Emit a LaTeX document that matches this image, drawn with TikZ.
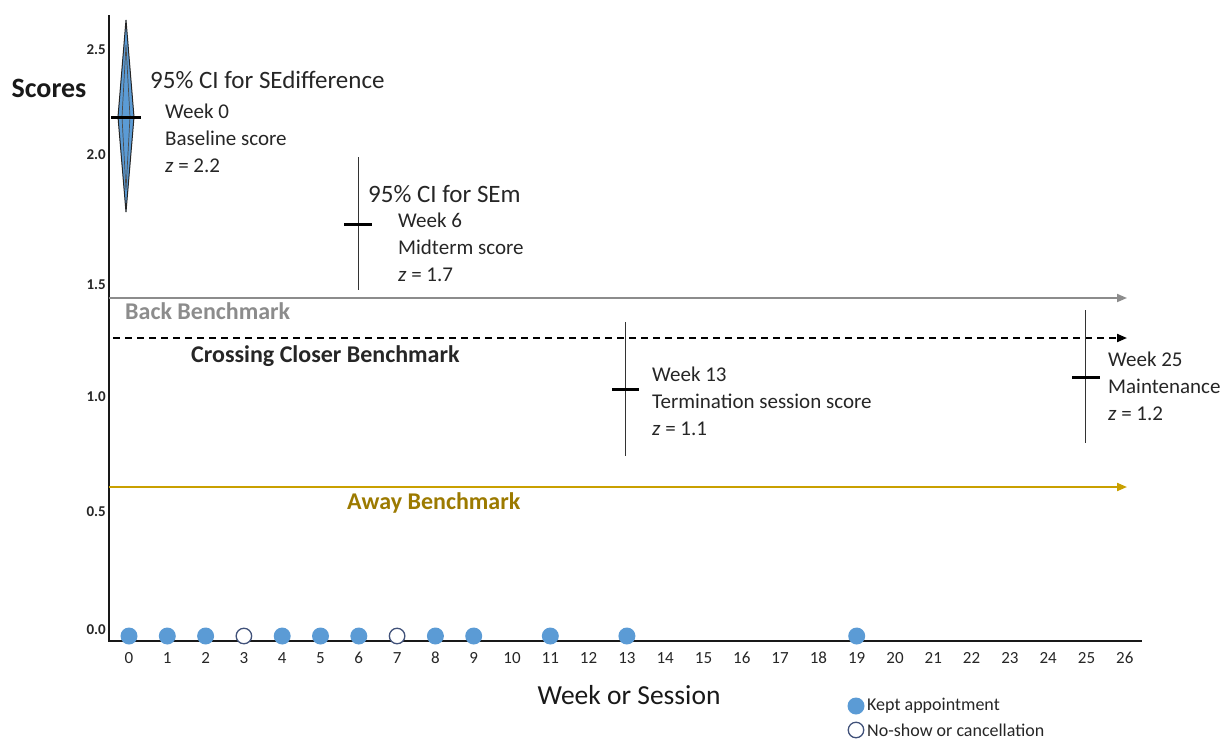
\documentclass[tikz,border=0pt]{standalone}
\usepackage{fontspec}
\setmainfont{Carlito}
\usetikzlibrary{arrows.meta}
\definecolor{kept}{HTML}{5B9BD5}
\definecolor{noshow}{HTML}{41527A}
\definecolor{backgray}{HTML}{8C8C8C}
\definecolor{awayline}{HTML}{C9A000}
\definecolor{awaytext}{HTML}{9C7A00}
\tikzset{
  ytick/.style={font=\fontsize{15}{16}\selectfont\bfseries, anchor=east, inner sep=0pt, text=black!85},
  xtick/.style={font=\fontsize{17}{18}\selectfont, inner sep=0pt, text=black!85},
  note/.style={font=\fontsize{21}{27}\selectfont, align=left, anchor=north west, inner sep=0pt, text=black!85},
  cititle/.style={font=\fontsize{25}{28}\selectfont, anchor=west, inner sep=0pt, text=black!85},
  bench/.style={font=\fontsize{24}{26}\selectfont\bfseries, anchor=west, inner sep=0pt},
  keptdot/.style={circle, fill=kept, minimum size=17pt, inner sep=0pt},
  missdot/.style={circle, draw=noshow, line width=1.3pt, fill=white, minimum size=15.5pt, inner sep=0pt},
  ciline/.style={draw=black!80, line width=1pt},
  cibar/.style={draw=black, line width=3pt},
  benchtip/.style={-{Triangle[length=10pt,width=8pt]}},
  legtext/.style={font=\fontsize{18}{20}\selectfont, anchor=west, inner sep=0pt, text=black!85},
}
\begin{document}
\begin{tikzpicture}[x=1pt,y=-1pt]
\useasboundingbox (0,0) rectangle (1232,740);
% axes
\coordinate (ytop) at (109,15);
\coordinate (origin) at (109,641);
\coordinate (xend) at (1142,641);
\draw[line width=2.5pt, black!90] (ytop) -- (origin) -- (xend);
% y ticks
\node[ytick] (y25) at (106,50) {2.5};
\node[ytick] (y20) at (106,155) {2.0};
\node[ytick] (y15) at (106,285) {1.5};
\node[ytick] (y10) at (106,397) {1.0};
\node[ytick] (y05) at (106,512) {0.5};
\node[ytick] (y00) at (106,630) {0.0};
\node[font=\fontsize{28}{30}\selectfont\bfseries, inner sep=0pt, text=black!90] (scores) at (49,88) {Scores};
% x ticks
\foreach \i in {0,...,26} {
  \node[xtick] (xt\i) at ({129+38.3*\i},658) {\i};
}
\node[font=\fontsize{27.5}{30}\selectfont, inner sep=0pt, text=black!90] (xlabel) at (629,695) {Week or Session};
% benchmarks
\coordinate (bk0) at (109,298); \coordinate (bk1) at (1127,298);
\draw[backgray, line width=1.8pt, benchtip] (bk0) -- (bk1);
\node[bench, text=backgray] (backlbl) at (125,311) {Back Benchmark};
\coordinate (cc0) at (113,338); \coordinate (cc1) at (1127,338);
\draw[black, line width=2pt, dash pattern=on 7pt off 5pt, benchtip] (cc0) -- (cc1);
\node[bench, text=black!85] (cclbl) at (191,356) {Crossing Closer Benchmark};
\coordinate (aw0) at (109,487); \coordinate (aw1) at (1127,487);
\draw[awayline, line width=2pt, benchtip] (aw0) -- (aw1);
\node[bench, text=awaytext] (awlbl) at (347,503) {Away Benchmark};
% week 0 diamond
\coordinate (d0t) at (126,20); \coordinate (d0r) at (134,117);
\coordinate (d0b) at (126,212); \coordinate (d0l) at (118,117);
\filldraw[fill=kept, draw=black!85, line width=1pt] (d0t) -- (d0r) -- (d0b) -- (d0l) -- cycle;
\draw[black!70, line width=0.7pt] (126,45) -- (130,117) -- (126,190) -- (122,117) -- cycle;
\coordinate (b0l) at (111,117); \coordinate (b0r) at (141,117);
\draw[cibar] (b0l) -- (b0r);
\node[cititle] (ci0) at (150,80) {95\% CI for SEdifference};
\node[note] (w0) at (165,104) {Week 0\\Baseline score\\\textit{z} = 2.2};
% week 6
\coordinate (w6t) at (358,157); \coordinate (w6b) at (358,290);
\draw[ciline] (w6t) -- (w6b);
\coordinate (b6l) at (344,224); \coordinate (b6r) at (372,224);
\draw[cibar] (b6l) -- (b6r);
\node[cititle] (ci6) at (368,194) {95\% CI for SEm};
\node[note] (w6) at (398,213) {Week 6\\Midterm score\\\textit{z} = 1.7};
% week 13
\coordinate (w13t) at (625,322); \coordinate (w13b) at (625,456);
\draw[ciline] (w13t) -- (w13b);
\coordinate (b13l) at (612,389); \coordinate (b13r) at (639,389);
\draw[cibar] (b13l) -- (b13r);
\node[note] (w13) at (652,367) {Week 13\\Termination session score\\\textit{z} = 1.1};
% week 25
\coordinate (w25t) at (1085,310); \coordinate (w25b) at (1085,443);
\draw[ciline] (w25t) -- (w25b);
\coordinate (b25l) at (1072,377); \coordinate (b25r) at (1100,377);
\draw[cibar] (b25l) -- (b25r);
\node[note] (w25) at (1108,352) {Week 25\\Maintenance\\\textit{z} = 1.2};
% appointments
\foreach \i in {0,1,2,4,5,6,8,9,11,13,19} {
  \node[keptdot] (k\i) at ({129+38.3*\i},636) {};
}
\foreach \i in {3,7} {
  \node[missdot] (m\i) at ({129+38.3*\i},636) {};
}
% legend
\node[keptdot] (lgk) at (856,706) {};
\node[legtext] (lgkt) at (867,706) {Kept appointment};
\node[missdot] (lgm) at (856,730) {};
\node[legtext] (lgmt) at (867,730) {No-show or cancellation};
\end{tikzpicture}
\end{document}
